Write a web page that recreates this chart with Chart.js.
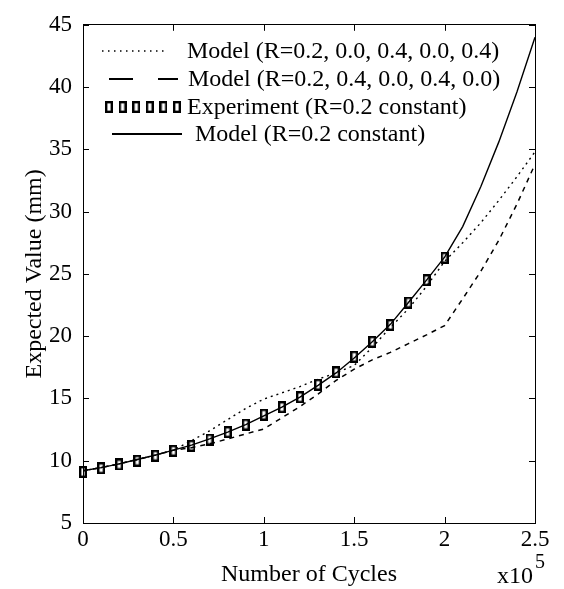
<!DOCTYPE html>
<html>
<head>
<meta charset="utf-8">
<script src="https://cdn.jsdelivr.net/npm/chart.js@4.4.1/dist/chart.umd.min.js"></script>
<style>
  html, body { margin: 0; padding: 0; background: #fff; }
  #wrap { width: 564px; height: 589px; }
</style>
</head>
<body>
<div id="wrap"><canvas id="chartCanvas" width="564" height="589"></canvas></div>
<script>
////////////data////////////
// cycles are in units of 10^5
var cycles = [0, 0.1, 0.2, 0.3, 0.4, 0.5, 0.6, 0.7, 0.8, 0.9, 1.0, 1.1, 1.2,
  1.3, 1.4, 1.5, 1.6, 1.7, 1.8, 1.9, 2.0, 2.1, 2.2, 2.3, 2.4, 2.5];

// Model (R=0.2 constant) - solid
var modelConst = [9.2, 9.45, 9.75, 10.1, 10.45, 10.85, 11.25, 11.75, 12.3, 12.9, 13.6,
  14.3, 15.1, 16.05, 17.05, 18.25, 19.55, 20.95, 22.7, 24.5, 26.35, 28.8, 32.0, 35.6, 39.6, 44.0];

// Model (R=0.2, 0.0, 0.4, 0.0, 0.4) - dotted
var modelDotted = [9.2, 9.45, 9.75, 10.1, 10.45, 10.85, 11.6, 12.4, 13.3, 14.2, 14.95,
  15.45, 15.95, 16.55, 17.05, 17.65, 19.1, 20.7, 22.2, 24.0, 26.0, 27.5, 29.1, 30.9, 32.8, 34.8];

// Model (R=0.2, 0.4, 0.0, 0.4, 0.0) - dashed
var modelDashed = [9.2, 9.45, 9.75, 10.1, 10.45, 10.85, 11.05, 11.35, 11.75, 12.15, 12.55,
  13.45, 14.35, 15.35, 16.45, 17.35, 18.1, 18.7, 19.4, 20.1, 20.85, 23.0, 25.2, 27.7, 30.6, 33.8];

// Experiment (R=0.2 constant)
var expCycles = [0, 0.1, 0.2, 0.3, 0.4, 0.5, 0.6, 0.7, 0.8, 0.9, 1.0, 1.1, 1.2, 1.3,
  1.4, 1.5, 1.6, 1.7, 1.8, 1.9, 2.0];
var expValues = [9.1, 9.4, 9.7, 10.0, 10.4, 10.8, 11.2, 11.7, 12.3, 12.9, 13.7, 14.3,
  15.1, 16.1, 17.1, 18.35, 19.55, 20.9, 22.7, 24.5, 26.3];

var xTickValues = [0, 0.5, 1, 1.5, 2, 2.5];
var yTickValues = [5, 10, 15, 20, 25, 30, 35, 40, 45];

var legendNames = [
  'Model (R=0.2, 0.0, 0.4, 0.0, 0.4)',
  'Model (R=0.2, 0.4, 0.0, 0.4, 0.0)',
  'Experiment (R=0.2 constant)',
  'Model (R=0.2 constant)'
];

var serif = "'Liberation Serif', 'Times New Roman', serif";

////////////helpers////////////
function toPoints(xs, ys) {
  return xs.map(function(x, i) { return { x: x, y: ys[i] }; });
}

// hollow tall box marker like the scanned plot
var marker = document.createElement('canvas');
marker.width = 8;
marker.height = 12;
(function() {
  var c = marker.getContext('2d');
  c.strokeStyle = '#000';
  c.lineWidth = 2.4;
  c.strokeRect(1.2, 1.2, 5.6, 9.6);
})();

function setTicks(values) {
  return function(scale) {
    scale.ticks = values.map(function(v) { return { value: v }; });
  };
}

function plainLabel(value) {
  return String(value);
}

////////////inward ticks, legend, exponent////////////
var paperDecor = {
  id: 'paperDecor',
  afterDraw: function(chart) {
    var ctx = chart.ctx;
    var area = chart.chartArea;
    var len = 6;
    ctx.save();
    ctx.strokeStyle = '#000';
    ctx.fillStyle = '#000';
    ctx.lineWidth = 1;

    // MATLAB style ticks pointing into the box on all four sides
    ctx.beginPath();
    xTickValues.forEach(function(v) {
      var px = Math.round(chart.scales.x.getPixelForValue(v)) + 0.5;
      ctx.moveTo(px, area.bottom); ctx.lineTo(px, area.bottom - len);
      ctx.moveTo(px, area.top); ctx.lineTo(px, area.top + len);
    });
    yTickValues.forEach(function(v) {
      var py = Math.round(chart.scales.y.getPixelForValue(v)) + 0.5;
      ctx.moveTo(area.left, py); ctx.lineTo(area.left + len, py);
      ctx.moveTo(area.right, py); ctx.lineTo(area.right - len, py);
    });
    ctx.stroke();

    var rows = [51, 79, 107, 134];
    // dotted sample
    ctx.lineWidth = 1.5;
    ctx.setLineDash([1.5, 4.5]);
    ctx.beginPath(); ctx.moveTo(102, rows[0]); ctx.lineTo(168, rows[0]); ctx.stroke();
    // dashed sample
    ctx.lineWidth = 2;
    ctx.setLineDash([24, 25]);
    ctx.beginPath(); ctx.moveTo(109, rows[1]); ctx.lineTo(178, rows[1]); ctx.stroke();
    // marker sample
    for (var i = 0; i < 6; i++) {
      ctx.drawImage(marker, 105 + i * 13.6, rows[2] - 6);
    }
    // solid sample
    ctx.setLineDash([]);
    ctx.lineWidth = 2;
    ctx.beginPath(); ctx.moveTo(112, rows[3]); ctx.lineTo(182, rows[3]); ctx.stroke();

    ctx.font = '24px ' + serif;
    ctx.textBaseline = 'middle';
    ctx.textAlign = 'left';
    var textX = [187, 188, 187, 195];
    legendNames.forEach(function(name, i) {
      ctx.fillText(name, textX[i], rows[i] + 1);
    });

    // x10^5
    ctx.textBaseline = 'alphabetic';
    ctx.font = '24px ' + serif;
    ctx.fillText('x10', 497, 583);
    ctx.font = '20px ' + serif;
    ctx.fillText('5', 535, 568);
    ctx.restore();
  }
};

////////////create chart////////////
var myChart = new Chart(document.getElementById('chartCanvas'), {
  type: 'line',
  data: {
    datasets: [{
      label: legendNames[2],
      data: toPoints(expCycles, expValues),
      showLine: false,
      pointStyle: marker,
      pointRadius: 5,
      clip: false,
      order: 0
    }, {
      label: legendNames[3],
      data: toPoints(cycles, modelConst),
      borderColor: '#000',
      borderWidth: 1.4,
      pointRadius: 0,
      order: 1
    }, {
      label: legendNames[0],
      data: toPoints(cycles, modelDotted),
      borderColor: '#000',
      borderWidth: 1.4,
      borderDash: [2, 4],
      pointRadius: 0,
      order: 2
    }, {
      label: legendNames[1],
      data: toPoints(cycles, modelDashed),
      borderColor: '#000',
      borderWidth: 1.5,
      borderDash: [5, 5],
      pointRadius: 0,
      order: 3
    }]
  },
  options: {
    responsive: false,
    animation: false,
    devicePixelRatio: 1,
    events: [],
    layout: { padding: 0 },
    plugins: {
      legend: { display: false },
      tooltip: { enabled: false }
    },
    scales: {
      x: {
        type: 'linear',
        position: 'bottom',
        min: 0,
        max: 2.5,
        afterBuildTicks: setTicks(xTickValues),
        afterFit: function(s) { s.height = 66; },
        ticks: { color: '#000', font: { family: serif, size: 23 }, padding: 3, maxRotation: 0, autoSkip: false, callback: plainLabel },
        grid: { drawOnChartArea: false, drawTicks: false },
        border: { display: true, color: '#000', width: 1 },
        title: { display: true, text: 'Number of Cycles', color: '#000', font: { family: serif, size: 24 }, padding: { top: 0, bottom: 0 } }
      },
      x2: {
        type: 'linear',
        position: 'top',
        min: 0,
        max: 2.5,
        afterFit: function(s) { s.height = 20; },
        ticks: { display: false },
        grid: { drawOnChartArea: false, drawTicks: false },
        border: { display: true, color: '#000', width: 1 }
      },
      y: {
        type: 'linear',
        position: 'left',
        min: 5,
        max: 45,
        afterBuildTicks: setTicks(yTickValues),
        afterFit: function(s) { s.width = 83; },
        ticks: { color: '#000', font: { family: serif, size: 23 }, padding: 11, callback: plainLabel },
        grid: { drawOnChartArea: false, drawTicks: false },
        border: { display: true, color: '#000', width: 1 },
        title: { display: true, text: 'Expected Value (mm)', color: '#000', font: { family: serif, size: 24 }, padding: { top: 20, bottom: 0 } }
      },
      y2: {
        type: 'linear',
        position: 'right',
        min: 5,
        max: 45,
        afterFit: function(s) { s.width = 29; },
        ticks: { display: false },
        grid: { drawOnChartArea: false, drawTicks: false },
        border: { display: true, color: '#000', width: 1 }
      }
    }
  },
  plugins: [paperDecor]
}); //end new Chart
</script>
</body>
</html>
